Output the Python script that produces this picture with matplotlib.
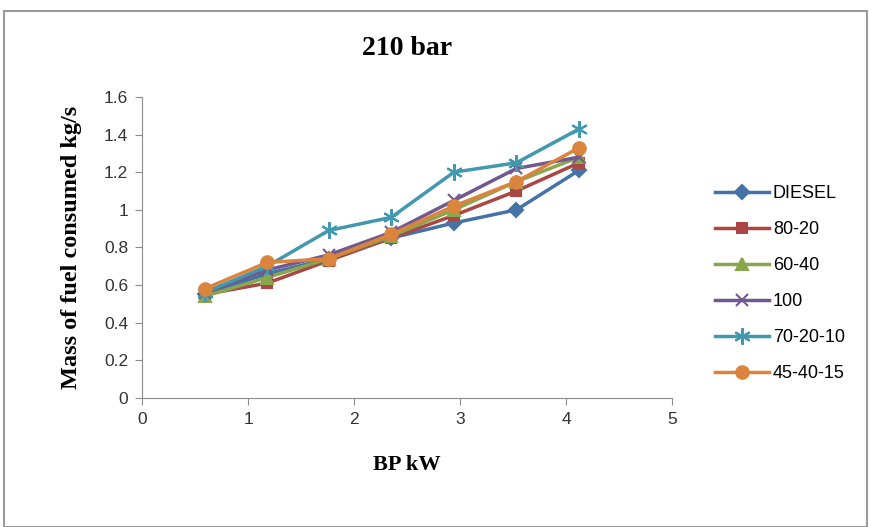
import matplotlib.pyplot as plt
import matplotlib.patches as patches

bp = [0.59, 1.18, 1.76, 2.35, 2.94, 3.53, 4.12]
diesel = [0.55, 0.66, 0.74, 0.85, 0.93, 1.00, 1.21]
b80_20 = [0.55, 0.61, 0.73, 0.85, 0.97, 1.10, 1.25]
b60_40 = [0.54, 0.64, 0.74, 0.86, 1.00, 1.15, 1.28]
b100 = [0.56, 0.68, 0.76, 0.88, 1.05, 1.22, 1.28]
b70_20_10 = [0.56, 0.70, 0.89, 0.96, 1.20, 1.25, 1.43]
b45_40_15 = [0.58, 0.72, 0.74, 0.87, 1.02, 1.15, 1.33]

series = [
    ("DIESEL", diesel, "#4572A7", "D", 7),
    ("80-20", b80_20, "#AA4643", "s", 7),
    ("60-40", b60_40, "#89A54E", "^", 8),
    ("100", b100, "#71588F", "x", 9),
    ("70-20-10", b70_20_10, "#4198AF", (6, 2, 0), 12),
    ("45-40-15", b45_40_15, "#DB843D", "o", 9),
]

fig = plt.figure(figsize=(8.71, 5.27), dpi=100)
# chart border
fig.patches.append(patches.Rectangle((0.005, 0.0), 0.99, 0.98, transform=fig.transFigure,
                                     fill=False, edgecolor="#9a9a9a", linewidth=1.5))
ax = fig.add_axes([0.163, 0.245, 0.609, 0.571])

for name, vals, col, mk, ms in series:
    ax.plot(bp, vals, color=col, marker=mk, markersize=ms, linewidth=2.5,
            markeredgecolor=col, markeredgewidth=1.5, label=name)

ax.set_xlim(0, 5)
ax.set_ylim(0, 1.6)
ax.set_xticks([0, 1, 2, 3, 4, 5])
ax.set_yticks([0, 0.2, 0.4, 0.6, 0.8, 1, 1.2, 1.4, 1.6])
ax.set_yticklabels(["0", "0.2", "0.4", "0.6", "0.8", "1", "1.2", "1.4", "1.6"])
for s in ["top", "right"]:
    ax.spines[s].set_visible(False)
for s in ["left", "bottom"]:
    ax.spines[s].set_color("#8c8c8c")
ax.tick_params(colors="#8c8c8c", labelcolor="#333333", labelsize=12.5, length=5,
               direction="out", pad=5)
for lbl in ax.get_xticklabels() + ax.get_yticklabels():
    lbl.set_family("Liberation Sans")

ax.set_title("210 bar", fontsize=20, fontweight="bold", family="Liberation Serif", pad=30)
ax.set_xlabel("BP kW", fontsize=16, fontweight="bold", family="Liberation Serif", labelpad=20)
ax.set_ylabel("Mass of fuel consumed kg/s", fontsize=17.5, fontweight="bold",
              family="Liberation Serif", labelpad=16)

leg = ax.legend(loc="center left", bbox_to_anchor=(1.05, 0.38), frameon=False,
                prop={"family": "Liberation Sans", "size": 13}, labelspacing=1.05,
                handlelength=3.0, handletextpad=0.2)

fig.savefig("out.png", dpi=100)
